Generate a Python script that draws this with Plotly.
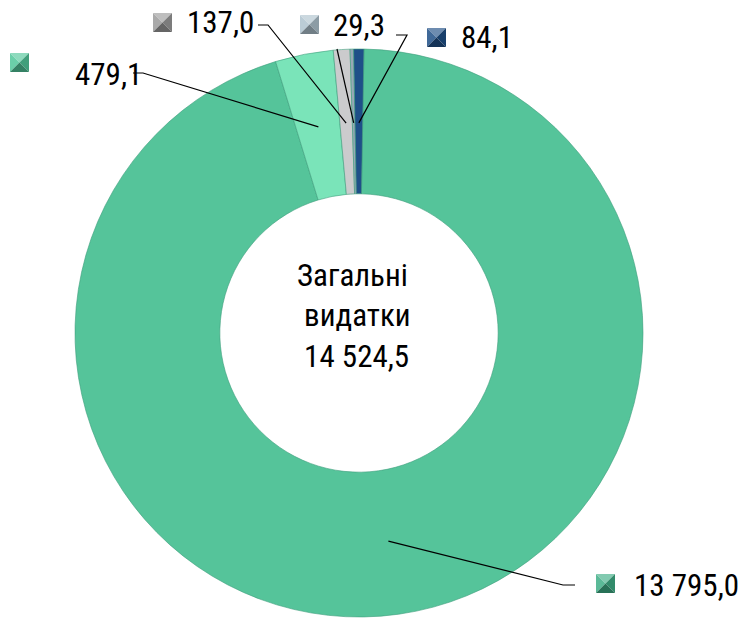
import math
import plotly.graph_objects as go

# ------------ Data ------------

categories = ["A", "B", "C", "D", "E"]
values = [13795.0, 479.1, 137.0, 29.3, 84.1]
slice_colors = ["#55C49A", "#7AE4B9", "#CBCBCD", "#97A9B6", "#1E4F88"]
key_colors = ["#3FAE86", "#52C79A", "#9C9C9C", "#AFC3CF", "#1F4F86"]
center_title = ["Загальні", "\u00a0видатки"]

W, H = 739, 618
FONT = "Roboto, Open Sans, DejaVu Sans, sans-serif"
FSIZE = 31

# pie geometry in pixels
CX, CY, R = 359, 333, 284
HOLE = 0.49
ROT = 1.0

# label layout: line start near label, knee, key box top-left, text left x / middle y
label_pos = [
    dict(start=(575, 585), knee=(563, 585), key=(596, 574), tx=632, ty=585),
    dict(start=(133, 73), knee=(143, 73), key=(10, 53), tx=73, ty=74),
    dict(start=(258, 25), knee=(268, 25), key=(153, 13), tx=185, ty=22),
    dict(start=(337, 49), knee=(337, 49), key=(300, 15), tx=331, ty=25),
    dict(start=(396, 35), knee=(407, 35), key=(427, 28), tx=459, ty=37),
]
KEY = 19


def fmt(v):
    s = f"{v:,.1f}"
    return s.replace(",", " ").replace(".", ",")


def cond(t):
    return f"<span style='font-stretch:condensed'>{t}</span>"


def px(x):
    return x / W


def py(y):
    return 1 - y / H


def shade(hexcol, f):
    h = hexcol.lstrip("#")
    r, g, b = (int(h[i:i + 2], 16) for i in (0, 2, 4))
    if f >= 0:
        r, g, b = (int(c + (255 - c) * f) for c in (r, g, b))
    else:
        r, g, b = (int(c * (1 + f)) for c in (r, g, b))
    return f"#{r:02x}{g:02x}{b:02x}"


total = sum(values)

fig = go.Figure()
fig.add_trace(go.Pie(
    labels=categories, values=values, sort=False, direction="clockwise",
    rotation=ROT, hole=HOLE, textinfo="none", showlegend=False, hoverinfo="label+value",
    marker=dict(colors=slice_colors, line=dict(color="#3E9E7C", width=0.6)),
    domain=dict(x=[px(CX - 300), px(CX + 300)], y=[py(CY + R), py(CY - R)]),
))

shapes = []
annotations = []

# leader lines: from label to middle of the ring at the slice mid-angle
acc = 0.0
for i, v in enumerate(values):
    mid = ROT + (acc + v / 2) / total * 360
    acc += v
    rr = R * 0.74
    ex = CX + rr * math.sin(math.radians(mid))
    ey = CY - rr * math.cos(math.radians(mid))
    lp = label_pos[i]
    (sx, sy), (kx, ky) = lp["start"], lp["knee"]
    shapes.append(dict(type="path", xref="paper", yref="paper",
                       path=f"M{px(sx)},{py(sy)} L{px(kx)},{py(ky)} L{px(ex)},{py(ey)}",
                       line=dict(color="black", width=1.2)))

    # bevelled legend key
    kx0, ky0 = lp["key"]
    kx1, ky1 = kx0 + KEY, ky0 + KEY
    mx, my = kx0 + KEY / 2, ky0 + KEY / 2
    c = key_colors[i]
    tris = [
        ((kx0, ky0), (kx1, ky0), shade(c, 0.35)),
        ((kx0, ky0), (kx0, ky1), shade(c, 0.15)),
        ((kx1, ky0), (kx1, ky1), shade(c, -0.2)),
        ((kx0, ky1), (kx1, ky1), shade(c, -0.35)),
    ]
    for (ax, ay), (bx, by), col in tris:
        shapes.append(dict(type="path", xref="paper", yref="paper",
                           path=f"M{px(ax)},{py(ay)} L{px(bx)},{py(by)} L{px(mx)},{py(my)} Z",
                           fillcolor=col, line=dict(width=0)))

    annotations.append(dict(x=px(lp["tx"]), y=py(lp["ty"]), xref="paper", yref="paper",
                            text=cond(fmt(v)), showarrow=False, xanchor="left", yanchor="middle",
                            align="left", font=dict(family=FONT, size=FSIZE, color="black")))

center_lines = center_title + ["\u00a0" + fmt(total)]
annotations.append(dict(x=px(295), y=py(316), xref="paper", yref="paper",
                        text="<br>".join(cond(t) for t in center_lines),
                        showarrow=False, xanchor="left", yanchor="middle", align="left",
                        font=dict(family=FONT, size=FSIZE, color="black")))

fig.update_layout(
    width=W, height=H, margin=dict(l=0, r=0, t=0, b=0),
    paper_bgcolor="white", plot_bgcolor="white",
    shapes=shapes, annotations=annotations,
)

fig.write_html("out.html", config={"displayModeBar": False},
               post_script="document.body.style.margin='0';")
